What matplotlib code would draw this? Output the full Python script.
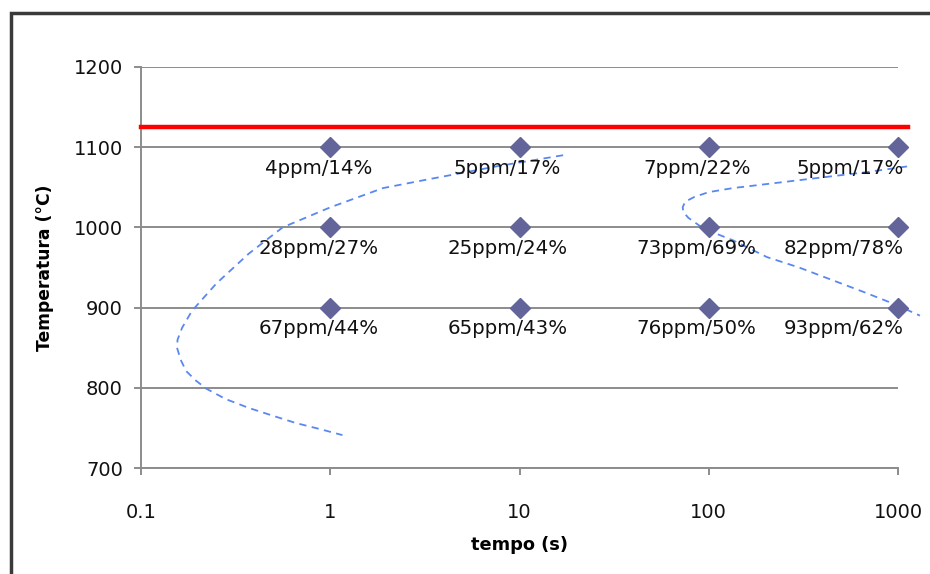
import matplotlib
matplotlib.use("Agg")
import matplotlib.pyplot as plt
from matplotlib.patches import Rectangle

# Sample points: time (s), temperature (°C), and their labels (ppm / %)
times = [1, 10, 100, 1000]
temps = [1100, 1000, 900]
labels = [
    ["4ppm/14%", "5ppm/17%", "7ppm/22%", "5ppm/17%"],
    ["28ppm/27%", "25ppm/24%", "73ppm/69%", "82ppm/78%"],
    ["67ppm/44%", "65ppm/43%", "76ppm/50%", "93ppm/62%"],
]

# Solution-treatment temperature line
limit_x = [0.1, 1130]
limit_y = [1125, 1125]

# Precipitation-start C-curves
curve1_x = [17.0, 11.3, 7.5, 5.0, 3.3, 1.9, 1.0, 0.56, 0.37, 0.25, 0.186,
            0.165, 0.156, 0.155, 0.162, 0.173, 0.195, 0.221, 0.28, 0.37,
            0.50, 0.66, 0.90, 1.16]
curve1_y = [1090, 1083, 1076, 1068, 1060, 1049, 1025, 1000, 967, 930, 896,
            875, 860, 850, 835, 821, 809, 799, 786, 775, 765, 756, 748, 741]
curve2_x = [1117, 686, 303, 134, 100, 84, 75, 72.8, 73.5, 78, 89.5, 110,
            134, 203, 300, 453, 650, 942, 1306]
curve2_y = [1076, 1069, 1059, 1049, 1044, 1038, 1032, 1025, 1019, 1012,
            1002, 992, 984, 963, 950, 934, 920, 905, 890]

xtick_vals = [0.1, 1, 10, 100, 1000]
xtick_labels = ["0.1", "1", "10", "100", "1000"]
ytick_vals = [700, 800, 900, 1000, 1100, 1200]

W, H = 930, 574
fig = plt.figure(figsize=(W / 100, H / 100), dpi=100)
ax = fig.add_axes([141 / W, (H - 468) / H, (898 - 141) / W, (468 - 67) / H])

grid_c = "#8c8c8c"
ax.set_xscale("log")
ax.set_xlim(0.1, 1000)
ax.set_ylim(700, 1200)
ax.set_yticks(ytick_vals)
ax.set_yticklabels([str(v) for v in ytick_vals])
ax.set_xticks(xtick_vals)
ax.set_xticklabels(xtick_labels)
ax.minorticks_off()
ax.yaxis.grid(True, color=grid_c, lw=1.4)
ax.set_axisbelow(True)
for s in ["top", "right"]:
    ax.spines[s].set_visible(False)
for s in ["left", "bottom"]:
    ax.spines[s].set_color(grid_c)
    ax.spines[s].set_linewidth(1.4)
ax.tick_params(axis="both", direction="out", length=5, width=1.4,
               color=grid_c, labelsize=14, labelcolor="#111111")
ax.tick_params(axis="y", pad=8)
ax.tick_params(axis="x", pad=20)

ax.plot(limit_x, limit_y, color="#ff0000", lw=3.2, clip_on=False, zorder=3)

dash_c = "#5a87f0"
ax.plot(curve1_x, curve1_y, color=dash_c, lw=1.3, ls=(0, (4, 3)),
        clip_on=False, zorder=4)
ax.plot(curve2_x, curve2_y, color=dash_c, lw=1.3, ls=(0, (4, 3)),
        clip_on=False, zorder=4)

for i, t in enumerate(temps):
    ax.plot(times, [t] * len(times), ls="none", marker="D", ms=10,
            color="#62649a", clip_on=False, zorder=5)
    for j, x in enumerate(times):
        last = j == len(times) - 1
        ax.annotate(labels[i][j], (x, t), xytext=(6 if last else -12, -21),
                    textcoords="offset pixels",
                    ha="right" if last else "center", va="center",
                    fontsize=14.2, color="#111111", zorder=6)

ax.set_xlabel("tempo (s)", fontsize=12.8, fontweight="bold", labelpad=10)
ax.set_ylabel("Temperatura (°C)", fontsize=12.3, fontweight="bold",
              labelpad=14)

# Chart frame
fig.patches.append(Rectangle((11 / W, -0.2), 1.5, 0.2 + (1 - 13 / H),
                             transform=fig.transFigure, fill=False,
                             edgecolor="#3a3a3a", lw=2.5, clip_on=False))

fig.savefig("out.png", dpi=100)
